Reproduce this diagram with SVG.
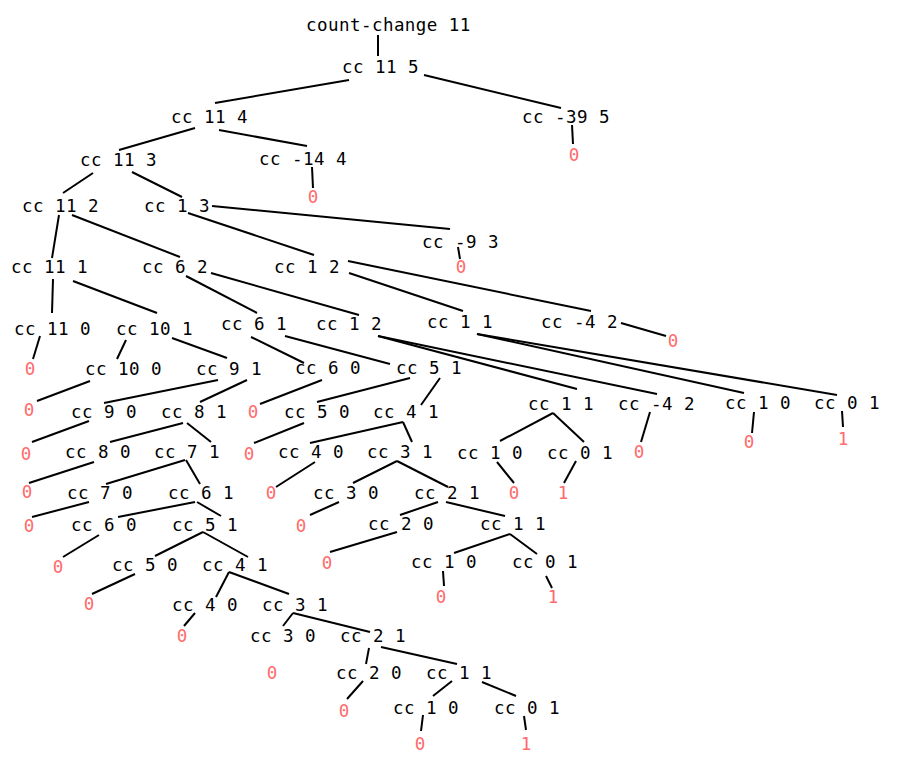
<svg xmlns="http://www.w3.org/2000/svg" width="903" height="769" viewBox="0 0 903 769">
<style>
text{font-family:"DejaVu Sans Mono","Liberation Mono",monospace;font-size:17.5px;letter-spacing:0.45px;fill:#000}
text.v{fill:#ff6b6b;text-anchor:middle;letter-spacing:0}
#edges line{stroke:#000;stroke-width:2;stroke-linecap:butt}
</style>
<rect width="903" height="769" fill="#fff"/>
<g id="edges">
<line x1="378" y1="35" x2="378" y2="56"/>
<line x1="349" y1="80" x2="215" y2="103"/>
<line x1="424" y1="75" x2="561" y2="108"/>
<line x1="572" y1="125" x2="573" y2="144"/>
<line x1="195" y1="128" x2="119" y2="150"/>
<line x1="219" y1="130" x2="307" y2="146"/>
<line x1="312" y1="167" x2="313" y2="188"/>
<line x1="93" y1="173" x2="63" y2="193"/>
<line x1="132" y1="172" x2="182" y2="197"/>
<line x1="212" y1="206" x2="450" y2="229"/>
<line x1="458" y1="247" x2="460" y2="259"/>
<line x1="59" y1="215" x2="52" y2="258"/>
<line x1="72" y1="215" x2="180" y2="257"/>
<line x1="188" y1="213" x2="314" y2="255"/>
<line x1="348" y1="261" x2="591" y2="311"/>
<line x1="349" y1="273" x2="463" y2="311"/>
<line x1="621" y1="323" x2="666" y2="336"/>
<line x1="477" y1="334" x2="744" y2="393"/>
<line x1="477" y1="334" x2="837" y2="395"/>
<line x1="754" y1="412" x2="752" y2="433"/>
<line x1="842" y1="411" x2="843" y2="427"/>
<line x1="53" y1="279" x2="52" y2="313"/>
<line x1="73" y1="281" x2="157" y2="313"/>
<line x1="186" y1="276" x2="257" y2="313"/>
<line x1="211" y1="273" x2="359" y2="315"/>
<line x1="378" y1="336" x2="577" y2="389"/>
<line x1="378" y1="336" x2="657" y2="394"/>
<line x1="40" y1="336" x2="33" y2="359"/>
<line x1="126" y1="340" x2="117" y2="359"/>
<line x1="172" y1="338" x2="227" y2="358"/>
<line x1="251" y1="337" x2="304" y2="363"/>
<line x1="285" y1="336" x2="390" y2="364"/>
<line x1="90" y1="381" x2="37" y2="401"/>
<line x1="218" y1="380" x2="104" y2="403"/>
<line x1="247" y1="380" x2="200" y2="402"/>
<line x1="322" y1="380" x2="260" y2="404"/>
<line x1="410" y1="378" x2="317" y2="402"/>
<line x1="440" y1="378" x2="421" y2="405"/>
<line x1="553" y1="413" x2="500" y2="441"/>
<line x1="553" y1="413" x2="584" y2="442"/>
<line x1="650" y1="412" x2="641" y2="442"/>
<line x1="89" y1="421" x2="32" y2="442"/>
<line x1="183" y1="423" x2="110" y2="442"/>
<line x1="187" y1="423" x2="211" y2="442"/>
<line x1="304" y1="423" x2="254" y2="443"/>
<line x1="403" y1="422" x2="310" y2="443"/>
<line x1="403" y1="422" x2="412" y2="442"/>
<line x1="497" y1="462" x2="514" y2="483"/>
<line x1="576" y1="461" x2="564" y2="483"/>
<line x1="94" y1="462" x2="29" y2="483"/>
<line x1="185" y1="460" x2="106" y2="484"/>
<line x1="186" y1="460" x2="200" y2="484"/>
<line x1="315" y1="462" x2="276" y2="487"/>
<line x1="397" y1="461" x2="353" y2="483"/>
<line x1="397" y1="461" x2="448" y2="487"/>
<line x1="89" y1="502" x2="32" y2="517"/>
<line x1="195" y1="502" x2="118" y2="517"/>
<line x1="197" y1="502" x2="221" y2="516"/>
<line x1="339" y1="502" x2="310" y2="515"/>
<line x1="438" y1="502" x2="400" y2="515"/>
<line x1="446" y1="502" x2="505" y2="516"/>
<line x1="99" y1="535" x2="63" y2="557"/>
<line x1="203" y1="532" x2="155" y2="556"/>
<line x1="203" y1="532" x2="248" y2="557"/>
<line x1="397" y1="532" x2="330" y2="552"/>
<line x1="510" y1="534" x2="454" y2="553"/>
<line x1="510" y1="534" x2="537" y2="554"/>
<line x1="443" y1="571" x2="444" y2="586"/>
<line x1="546" y1="576" x2="552" y2="588"/>
<line x1="135" y1="574" x2="92" y2="594"/>
<line x1="229" y1="572" x2="216" y2="597"/>
<line x1="229" y1="572" x2="289" y2="594"/>
<line x1="195" y1="613" x2="184" y2="626"/>
<line x1="293" y1="613" x2="283" y2="626"/>
<line x1="293" y1="613" x2="370" y2="632"/>
<line x1="369" y1="648" x2="366" y2="664"/>
<line x1="381" y1="647" x2="457" y2="664"/>
<line x1="363" y1="681" x2="347" y2="699"/>
<line x1="452" y1="681" x2="433" y2="696"/>
<line x1="482" y1="682" x2="516" y2="696"/>
<line x1="423" y1="715" x2="421" y2="731"/>
<line x1="524" y1="716" x2="526" y2="730"/>
</g>
<g id="n-root"><text x="306" y="31">count-change 11</text></g>
<g id="n-cc-11-5"><text x="342" y="73">cc 11 5</text></g>
<g id="n-cc-11-4"><text x="171" y="123">cc 11 4</text></g>
<g id="n-cc-m39-5"><text x="522" y="123">cc -39 5</text></g>
<g id="v-1"><text class="v" x="574" y="161">0</text></g>
<g id="n-cc-11-3"><text x="80" y="166">cc 11 3</text></g>
<g id="n-cc-m14-4"><text x="259" y="165">cc -14 4</text></g>
<g id="v-2"><text class="v" x="313" y="203">0</text></g>
<g id="n-cc-11-2"><text x="22" y="212">cc 11 2</text></g>
<g id="n-cc-1-3"><text x="144" y="212">cc 1 3</text></g>
<g id="n-cc-m9-3"><text x="422" y="248">cc -9 3</text></g>
<g id="v-3"><text class="v" x="461" y="273">0</text></g>
<g id="n-cc-11-1"><text x="11" y="273">cc 11 1</text></g>
<g id="n-cc-6-2"><text x="142" y="273">cc 6 2</text></g>
<g id="n-cc-1-2a"><text x="274" y="273">cc 1 2</text></g>
<g id="n-cc-m4-2a"><text x="541" y="328">cc -4 2</text></g>
<g id="v-4"><text class="v" x="673" y="347">0</text></g>
<g id="n-cc-1-1a"><text x="427" y="328">cc 1 1</text></g>
<g id="n-cc-1-0a"><text x="725" y="409">cc 1 0</text></g>
<g id="n-cc-0-1a"><text x="814" y="409">cc 0 1</text></g>
<g id="v-5"><text class="v" x="749" y="448">0</text></g>
<g id="v-6"><text class="v" x="843" y="445">1</text></g>
<g id="n-cc-11-0"><text x="14" y="335">cc 11 0</text></g>
<g id="n-cc-10-1"><text x="116" y="335">cc 10 1</text></g>
<g id="n-cc-6-1a"><text x="221" y="330">cc 6 1</text></g>
<g id="n-cc-1-2b"><text x="316" y="330">cc 1 2</text></g>
<g id="v-7"><text class="v" x="30" y="375">0</text></g>
<g id="n-cc-10-0"><text x="85" y="375">cc 10 0</text></g>
<g id="n-cc-9-1"><text x="196" y="375">cc 9 1</text></g>
<g id="n-cc-6-0a"><text x="295" y="374">cc 6 0</text></g>
<g id="n-cc-5-1a"><text x="396" y="374">cc 5 1</text></g>
<g id="n-cc-1-1b"><text x="528" y="410">cc 1 1</text></g>
<g id="n-cc-m4-2b"><text x="618" y="410">cc -4 2</text></g>
<g id="v-8"><text class="v" x="29" y="416">0</text></g>
<g id="n-cc-9-0"><text x="71" y="418">cc 9 0</text></g>
<g id="n-cc-8-1"><text x="161" y="418">cc 8 1</text></g>
<g id="v-9"><text class="v" x="253" y="418">0</text></g>
<g id="n-cc-5-0a"><text x="284" y="418">cc 5 0</text></g>
<g id="n-cc-4-1a"><text x="373" y="418">cc 4 1</text></g>
<g id="n-cc-1-0b"><text x="457" y="459">cc 1 0</text></g>
<g id="n-cc-0-1b"><text x="547" y="459">cc 0 1</text></g>
<g id="v-10"><text class="v" x="639" y="458">0</text></g>
<g id="v-11"><text class="v" x="26" y="460">0</text></g>
<g id="n-cc-8-0"><text x="65" y="458">cc 8 0</text></g>
<g id="n-cc-7-1"><text x="154" y="458">cc 7 1</text></g>
<g id="v-12"><text class="v" x="249" y="460">0</text></g>
<g id="n-cc-4-0a"><text x="278" y="458">cc 4 0</text></g>
<g id="n-cc-3-1a"><text x="367" y="458">cc 3 1</text></g>
<g id="v-13"><text class="v" x="514" y="499">0</text></g>
<g id="v-14"><text class="v" x="563" y="499">1</text></g>
<g id="v-15"><text class="v" x="27" y="498">0</text></g>
<g id="n-cc-7-0"><text x="67" y="499">cc 7 0</text></g>
<g id="n-cc-6-1b"><text x="168" y="499">cc 6 1</text></g>
<g id="v-16"><text class="v" x="271" y="499">0</text></g>
<g id="n-cc-3-0a"><text x="313" y="499">cc 3 0</text></g>
<g id="n-cc-2-1a"><text x="414" y="499">cc 2 1</text></g>
<g id="v-17"><text class="v" x="29" y="532">0</text></g>
<g id="n-cc-6-0b"><text x="71" y="531">cc 6 0</text></g>
<g id="n-cc-5-1b"><text x="172" y="531">cc 5 1</text></g>
<g id="v-18"><text class="v" x="301" y="532">0</text></g>
<g id="n-cc-2-0a"><text x="368" y="530">cc 2 0</text></g>
<g id="n-cc-1-1c"><text x="480" y="530">cc 1 1</text></g>
<g id="v-19"><text class="v" x="58" y="573">0</text></g>
<g id="n-cc-5-0b"><text x="112" y="571">cc 5 0</text></g>
<g id="n-cc-4-1b"><text x="202" y="571">cc 4 1</text></g>
<g id="v-20"><text class="v" x="327" y="569">0</text></g>
<g id="n-cc-1-0c"><text x="411" y="568">cc 1 0</text></g>
<g id="n-cc-0-1c"><text x="512" y="568">cc 0 1</text></g>
<g id="v-21"><text class="v" x="441" y="603">0</text></g>
<g id="v-22"><text class="v" x="553" y="603">1</text></g>
<g id="v-23"><text class="v" x="89" y="610">0</text></g>
<g id="n-cc-4-0b"><text x="172" y="611">cc 4 0</text></g>
<g id="n-cc-3-1b"><text x="262" y="611">cc 3 1</text></g>
<g id="v-24"><text class="v" x="182" y="642">0</text></g>
<g id="n-cc-3-0b"><text x="250" y="642">cc 3 0</text></g>
<g id="n-cc-2-1b"><text x="340" y="642">cc 2 1</text></g>
<g id="v-25"><text class="v" x="272" y="679">0</text></g>
<g id="n-cc-2-0b"><text x="336" y="679">cc 2 0</text></g>
<g id="n-cc-1-1d"><text x="426" y="679">cc 1 1</text></g>
<g id="v-26"><text class="v" x="344" y="717">0</text></g>
<g id="n-cc-1-0d"><text x="393" y="714">cc 1 0</text></g>
<g id="n-cc-0-1d"><text x="494" y="714">cc 0 1</text></g>
<g id="v-27"><text class="v" x="420" y="750">0</text></g>
<g id="v-28"><text class="v" x="526" y="750">1</text></g>
</svg>
